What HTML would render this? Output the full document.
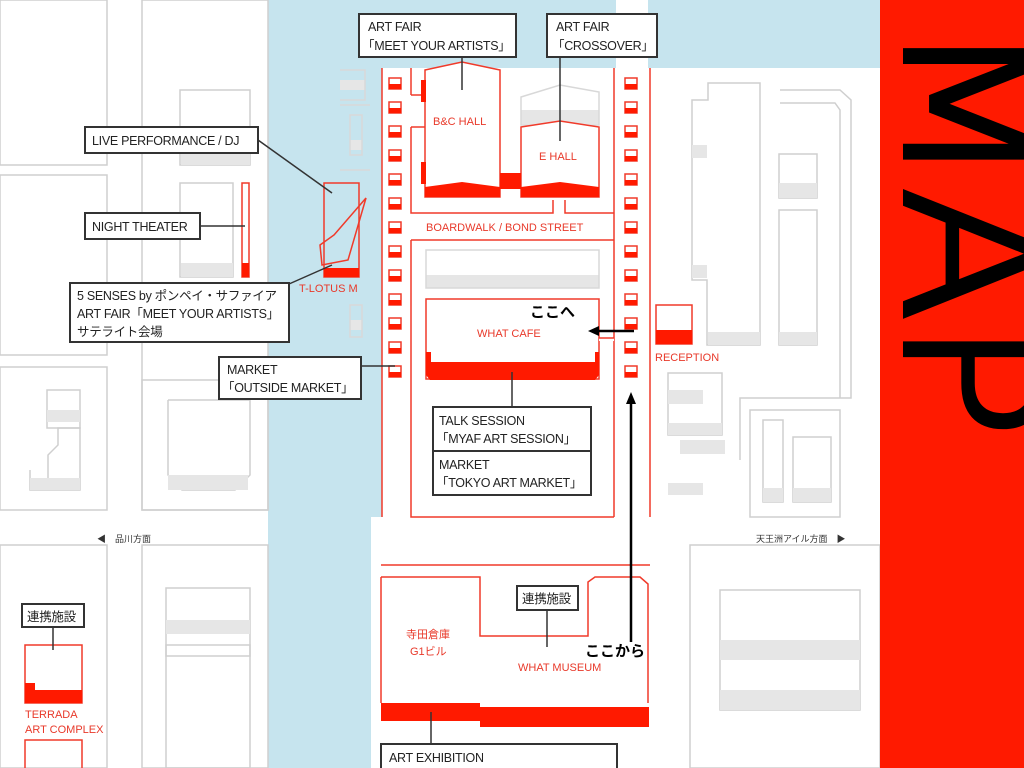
<!DOCTYPE html>
<html><head><meta charset="utf-8"><style>
html,body{margin:0;padding:0;background:#fff;}
svg{display:block;}
text{font-family:"Liberation Sans","Noto Sans CJK JP",sans-serif;}
</style></head><body>
<svg width="1024" height="768" viewBox="0 0 1024 768" xmlns="http://www.w3.org/2000/svg">
<rect width="1024" height="768" fill="#fff"/>
<!-- water -->
<rect x="268" y="0" width="103" height="768" fill="#c6e4ee"/>
<rect x="268" y="0" width="348" height="68" fill="#c6e4ee"/>
<rect x="648" y="0" width="232" height="68" fill="#c6e4ee"/>
<rect x="371" y="68" width="11" height="449" fill="#c6e4ee"/>

<!-- gray buildings -->
<g fill="none" stroke="#cfcfcf" stroke-width="1.5">
<rect x="0" y="0" width="107" height="165"/>
<rect x="0" y="175" width="107" height="180"/>
<rect x="0" y="367" width="107" height="143"/>
<rect x="142" y="0" width="126" height="510"/>
<rect x="180" y="90" width="70" height="75"/>
<rect x="180" y="183" width="53" height="94"/>
<rect x="47" y="390" width="33" height="38"/>
<path d="M30 470 L30 490 L48 490 L48 455 L58 445 L58 428 L80 428 L80 490 L30 490"/>
<path d="M168 400 L168 475 L182 490 L235 490 L250 475 L250 400 L168 400"/>
<rect x="142" y="380" width="126" height="130"/>
<rect x="0" y="545" width="107" height="223"/>
<rect x="142" y="545" width="126" height="223"/>
<rect x="166" y="588" width="84" height="68"/>
<rect x="166" y="645" width="84" height="123"/>
<path d="M708 83 L760 83 L760 345 L707 345 L707 280 L692 280 L692 215 L692 100 L708 100 Z"/>
<path d="M780 90 L840 90 L851 100 L851 398 L740 398 L740 460"/>
<path d="M780 103 L835 103 L840 110 L840 398"/>
<rect x="779" y="154" width="38" height="44"/>
<rect x="779" y="210" width="38" height="135"/>
<rect x="668" y="373" width="54" height="62"/>
<rect x="750" y="410" width="90" height="107"/>
<rect x="763" y="420" width="20" height="82"/>
<rect x="793" y="437" width="38" height="65"/>
<rect x="690" y="545" width="190" height="223"/>
<rect x="720" y="590" width="140" height="120"/>
</g>
<g fill="#e6e6e6">
<rect x="181" y="153" width="69" height="12"/>
<rect x="181" y="263" width="52" height="14"/>
<rect x="47" y="410" width="33" height="12"/>
<rect x="30" y="478" width="50" height="12"/>
<rect x="168" y="475" width="80" height="15"/>
<rect x="166" y="620" width="84" height="14"/>
<rect x="708" y="332" width="52" height="13"/>
<rect x="779" y="183" width="38" height="15"/>
<rect x="779" y="332" width="38" height="13"/>
<rect x="692" y="145" width="15" height="13"/>
<rect x="692" y="265" width="15" height="13"/>
<rect x="668" y="390" width="35" height="14"/>
<rect x="668" y="423" width="54" height="12"/>
<rect x="680" y="440" width="45" height="14"/>
<rect x="668" y="483" width="35" height="12"/>
<rect x="763" y="488" width="20" height="14"/>
<rect x="793" y="488" width="38" height="14"/>
<rect x="720" y="640" width="140" height="20"/>
<rect x="720" y="690" width="140" height="20"/>
<rect x="426" y="275" width="173" height="13"/>
<rect x="521" y="110" width="78" height="14"/>
<rect x="340" y="80" width="25" height="10"/>
<rect x="350" y="140" width="12" height="10"/>
<rect x="350" y="320" width="12" height="10"/>
</g>
<g fill="none" stroke="#d8d8d8" stroke-width="1.5">
<path d="M340 70 L365 70 L365 100 L340 100"/>
<rect x="350" y="115" width="12" height="40"/>
<path d="M340 105 L370 105"/><path d="M340 170 L370 170"/>
<rect x="350" y="305" width="12" height="32"/>
<rect x="426" y="250" width="173" height="38"/>
<path d="M521 97 L560 85 L599 92 L599 125 L521 125 Z"/>
</g>

<!-- red venue outlines -->
<g fill="none" stroke="#f03a2a" stroke-width="1.5">
<line x1="382" y1="68" x2="382" y2="517"/>
<line x1="411" y1="68" x2="411" y2="95"/>
<line x1="614" y1="68" x2="614" y2="517"/>
<line x1="650" y1="68" x2="650" y2="517"/>
<path d="M411 127 L411 213 L553 213 L553 200"/>
<path d="M565 200 L565 213 L614 213"/>
<path d="M411 240 L614 240"/><path d="M411 240 L411 517 L614 517"/>
<path d="M411 95 L425 95"/><path d="M411 127 L425 127"/>
<line x1="381" y1="565" x2="650" y2="565"/>
<path d="M381 577 L480 577 L480 636 L588 636 L588 582 L595 577 L640 577 L648 584 L648 703"/>
<path d="M381 577 L381 703"/>
<rect x="25" y="645" width="57" height="58"/>
<path d="M25 768 L25 740 L82 740 L82 768"/>
<rect x="324" y="183" width="35" height="94"/>
<path d="M334 235 L366 198 L348 260 L322 265 L320 245 Z"/>
<rect x="242" y="183" width="7" height="94"/>
<rect x="656" y="305" width="36" height="39"/>
</g>
<!-- halls -->
<path d="M425 70 L462 62 L500 70 L500 197 L425 197 Z" fill="#fff" stroke="#f03a2a" stroke-width="1.5"/>
<path d="M425 197 L425 187 L462 182 L500 187 L500 197 Z" fill="#ff1a00"/>
<path d="M521 127 L560 121 L599 127 L599 197 L521 197 Z" fill="#fff" stroke="#f03a2a" stroke-width="1.5"/>
<path d="M521 197 L521 187 L560 182 L599 187 L599 197 Z" fill="#ff1a00"/>
<rect x="500" y="173" width="21" height="16" fill="#ff1a00"/>
<rect x="421" y="80" width="5" height="22" fill="#ff1a00"/>
<rect x="421" y="162" width="5" height="22" fill="#ff1a00"/>
<!-- cafe -->
<rect x="426" y="299" width="173" height="80" fill="#fff" stroke="#f03a2a" stroke-width="1.5"/>
<path d="M426 352 L431 352 L431 362 L595 362 L595 352 L599 352 L599 375 L595 380 L430 380 L426 375 Z" fill="#ff1a00"/>
<rect x="599" y="338" width="15" height="3" fill="#fff"/>
<path d="M599 338 L614 338" stroke="#f03a2a" stroke-width="1.5"/>
<!-- red fills -->
<g fill="#ff1a00">
<rect x="324" y="268" width="35" height="9"/>
<rect x="242" y="263" width="7" height="14"/>
<rect x="656" y="330" width="36" height="14"/>
<rect x="381" y="703" width="99" height="18"/>
<rect x="480" y="707" width="169" height="20"/>
<rect x="25" y="683" width="10" height="20"/>
<rect x="35" y="690" width="47" height="13"/>
</g>
<!-- small squares -->
<g id="sq">
<rect x="389" y="78" width="12" height="11" fill="#fff" stroke="#f03a2a" stroke-width="1.5"/>
<rect x="389" y="84" width="12" height="5" fill="#ff1a00"/>
</g>
<use href="#sq" y="24"/><use href="#sq" y="48"/><use href="#sq" y="72"/><use href="#sq" y="96"/><use href="#sq" y="120"/><use href="#sq" y="144"/><use href="#sq" y="168"/><use href="#sq" y="192"/><use href="#sq" y="216"/><use href="#sq" y="240"/><use href="#sq" y="264"/><use href="#sq" y="288"/>
<use href="#sq" x="236"/><use href="#sq" x="236" y="24"/><use href="#sq" x="236" y="48"/><use href="#sq" x="236" y="72"/><use href="#sq" x="236" y="96"/><use href="#sq" x="236" y="120"/><use href="#sq" x="236" y="144"/><use href="#sq" x="236" y="168"/><use href="#sq" x="236" y="192"/><use href="#sq" x="236" y="216"/><use href="#sq" x="236" y="240"/><use href="#sq" x="236" y="264"/><use href="#sq" x="236" y="288"/>

<!-- connector lines -->
<g stroke="#333" stroke-width="1.5">
<line x1="462" y1="57" x2="462" y2="90"/>
<line x1="560" y1="57" x2="560" y2="141"/>
<line x1="258" y1="140" x2="332" y2="193"/>
<line x1="200" y1="226" x2="245" y2="226"/>
<line x1="289" y1="284" x2="332" y2="265"/>
<line x1="361" y1="366" x2="395" y2="366"/>
<line x1="512" y1="372" x2="512" y2="407"/>
<line x1="547" y1="610" x2="547" y2="647"/>
<line x1="53" y1="627" x2="53" y2="650"/>
<line x1="431" y1="712" x2="431" y2="744"/>
</g>
<!-- label boxes -->
<g fill="#fff" stroke="#333" stroke-width="2">
<rect x="359" y="14" width="157" height="43"/>
<rect x="547" y="14" width="110" height="43"/>
<rect x="85" y="127" width="173" height="26"/>
<rect x="85" y="213" width="115" height="26"/>
<rect x="70" y="283" width="219" height="59"/>
<rect x="219" y="357" width="142" height="42"/>
<rect x="433" y="407" width="158" height="44"/>
<rect x="433" y="451" width="158" height="44"/>
<rect x="517" y="586" width="61" height="24"/>
<rect x="22" y="604" width="62" height="23"/>
<rect x="381" y="744" width="236" height="30"/>
</g>
<g font-size="12.5" fill="#222" letter-spacing="-0.3">
<text x="368" y="31">ART FAIR</text>
<text x="362" y="50">「MEET YOUR ARTISTS」</text>
<text x="556" y="31">ART FAIR</text>
<text x="552" y="50">「CROSSOVER」</text>
<text x="92" y="145">LIVE PERFORMANCE / DJ</text>
<text x="92" y="231">NIGHT THEATER</text>
<text x="77" y="300">5 SENSES by ポンペイ・サファイア</text>
<text x="77" y="318">ART FAIR「MEET YOUR ARTISTS」</text>
<text x="77" y="336">サテライト会場</text>
<text x="227" y="374">MARKET</text>
<text x="222" y="392">「OUTSIDE MARKET」</text>
<text x="439" y="425">TALK SESSION</text>
<text x="436" y="443">「MYAF ART SESSION」</text>
<text x="439" y="469">MARKET</text>
<text x="436" y="487">「TOKYO ART MARKET」</text>
<text x="522" y="603">連携施設</text>
<text x="27" y="621">連携施設</text>
<text x="389" y="762">ART EXHIBITION</text>
</g>
<g font-size="11" fill="#e8392a">
<text x="433" y="125">B&amp;C HALL</text>
<text x="539" y="160">E HALL</text>
<text x="426" y="231">BOARDWALK / BOND STREET</text>
<text x="477" y="337">WHAT CAFE</text>
<text x="299" y="292">T-LOTUS M</text>
<text x="655" y="361">RECEPTION</text>
<text x="406" y="638">寺田倉庫</text>
<text x="410" y="655">G1ビル</text>
<text x="518" y="671">WHAT MUSEUM</text>
<text x="25" y="718">TERRADA</text>
<text x="25" y="733">ART COMPLEX</text>
</g>
<g font-size="9" fill="#333">
<text x="97" y="542">◀　品川方面</text>
<text x="756" y="542">天王洲アイル方面　▶</text>
</g>
<!-- arrows -->
<g stroke="#000" stroke-width="2.5">
<line x1="634" y1="331" x2="596" y2="331"/>
<line x1="631" y1="642" x2="631" y2="402"/>
</g>
<path d="M588 331 L599 326 L599 336 Z" fill="#000"/>
<path d="M631 392 L626 404 L636 404 Z" fill="#000"/>
<g font-size="15" font-weight="bold" fill="#000">
<text x="530" y="317">ここへ</text>
<text x="585" y="656">ここから</text>
</g>
<!-- MAP panel -->
<rect x="880" y="0" width="144" height="768" fill="#ff1a00"/>
<text transform="translate(906,20) rotate(90)" font-size="186" font-weight="200" fill="#000" stroke="#000" stroke-width="6" stroke-linejoin="miter" textLength="418" lengthAdjust="spacingAndGlyphs" style="font-family:'DejaVu Sans ExtraLight','DejaVu Sans','Liberation Sans',sans-serif">MAP</text>
</svg>
</body></html>
